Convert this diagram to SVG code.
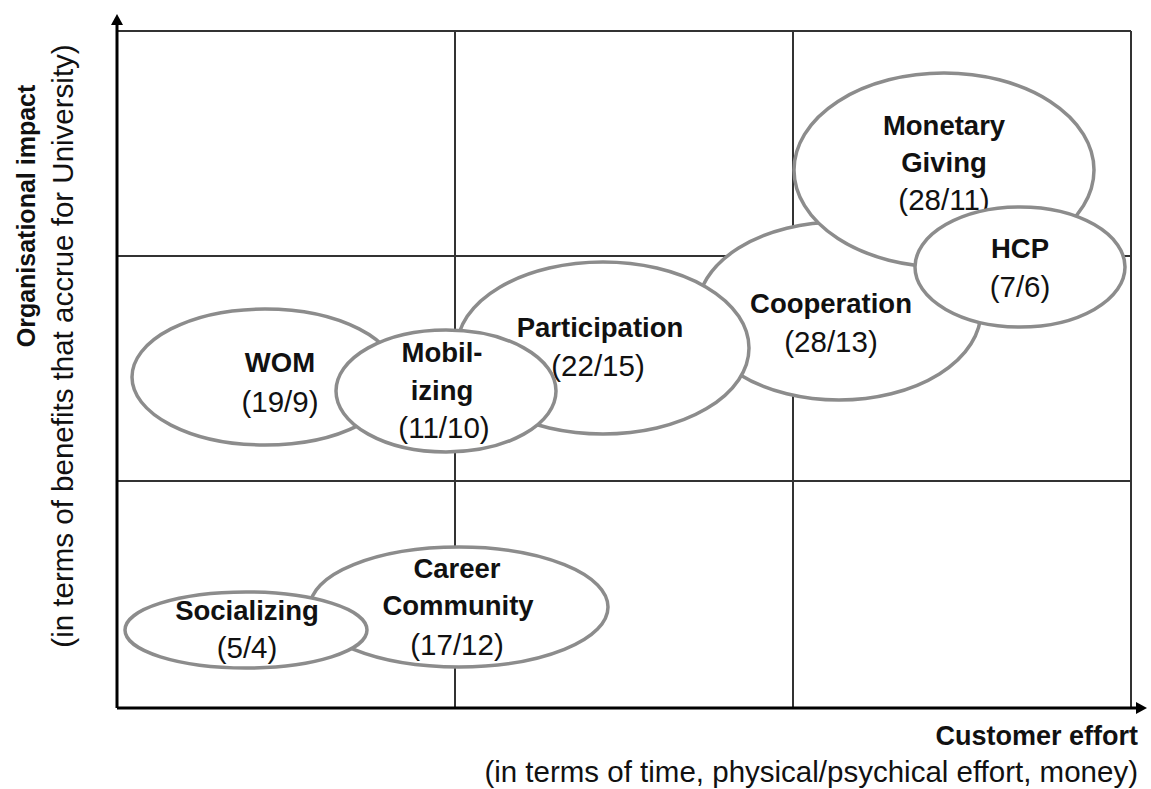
<svg xmlns="http://www.w3.org/2000/svg" width="1151" height="789" viewBox="0 0 1151 789">
<style>
.grid{stroke:#333;stroke-width:2;fill:none}
.axis{stroke:#000;stroke-width:3;fill:none}
.ell{fill:#fff;stroke:#8c8c8c;stroke-width:3.5}
.b{font-family:"Liberation Sans",Arial,sans-serif;font-weight:bold;font-size:27.5px;fill:#111;text-anchor:middle}
.r{font-family:"Liberation Sans",Arial,sans-serif;font-size:29.5px;fill:#111;text-anchor:middle}
</style>
<defs>
<marker id="ah" markerWidth="11" markerHeight="12" refX="2" refY="6" orient="auto" markerUnits="userSpaceOnUse" viewBox="0 0 11 12"><path d="M0,0 L11,6 L0,12 Z" fill="#000"/></marker>
</defs>
<g id="grid">
<line class="grid" x1="117" y1="31" x2="1131" y2="31"/>
<line class="grid" x1="117" y1="256" x2="1131" y2="256"/>
<line class="grid" x1="117" y1="481" x2="1131" y2="481"/>
<line class="grid" x1="455" y1="31" x2="455" y2="708"/>
<line class="grid" x1="793" y1="31" x2="793" y2="708"/>
<line class="grid" x1="1131" y1="31" x2="1131" y2="708"/>
</g>
<g id="axes">
<line class="axis" x1="117" y1="708" x2="117" y2="23" marker-end="url(#ah)"/>
<line class="axis" x1="117" y1="708" x2="1138" y2="708" marker-end="url(#ah)"/>
</g>
<g id="node-wom"><ellipse class="ell" cx="265" cy="377" rx="133" ry="68"/>
<text class="b" x="280" y="372">WOM</text><text class="r" x="280" y="412">(19/9)</text></g>
<g id="node-cooperation"><ellipse class="ell" cx="839" cy="311" rx="142" ry="89"/>
<text class="b" x="831" y="313">Cooperation</text><text class="r" x="831" y="352">(28/13)</text></g>
<g id="node-participation"><ellipse class="ell" cx="603" cy="348" rx="146" ry="86"/>
<text class="b" x="600" y="337">Participation</text><text class="r" x="598" y="376">(22/15)</text></g>
<g id="node-mobilizing"><ellipse class="ell" cx="446" cy="391" rx="110" ry="61"/>
<text class="b" x="442" y="362">Mobil-</text><text class="b" x="442" y="400">izing</text><text class="r" x="444" y="438">(11/10)</text></g>
<g id="node-monetary"><ellipse class="ell" cx="944" cy="170" rx="150" ry="97"/>
<text class="b" x="944" y="135">Monetary</text><text class="b" x="944" y="172">Giving</text><text class="r" x="944" y="210">(28/11)</text></g>
<g id="node-hcp"><ellipse class="ell" cx="1020" cy="267" rx="105" ry="60"/>
<text class="b" x="1020" y="258">HCP</text><text class="r" x="1020" y="297">(7/6)</text></g>
<g id="node-career"><ellipse class="ell" cx="459" cy="607" rx="149" ry="60"/>
<text class="b" x="457" y="578">Career</text><text class="b" x="458" y="615">Community</text><text class="r" x="457" y="655">(17/12)</text></g>
<g id="node-socializing"><ellipse class="ell" cx="246" cy="630" rx="121" ry="38"/>
<text class="b" x="247" y="620">Socializing</text><text class="r" x="247" y="658">(5/4)</text></g>
<g id="labels">
<text class="b" x="1138" y="745" style="text-anchor:end;font-size:27px">Customer effort</text>
<text class="r" x="1138" y="782" style="text-anchor:end">(in terms of time, physical/psychical effort, money)</text>
<text class="b" transform="translate(35,216) rotate(-90)" style="font-size:25px">Organisational impact</text>
<text class="r" transform="translate(73,346) rotate(-90)">(in terms of benefits that accrue for University)</text>
</g>
</svg>
